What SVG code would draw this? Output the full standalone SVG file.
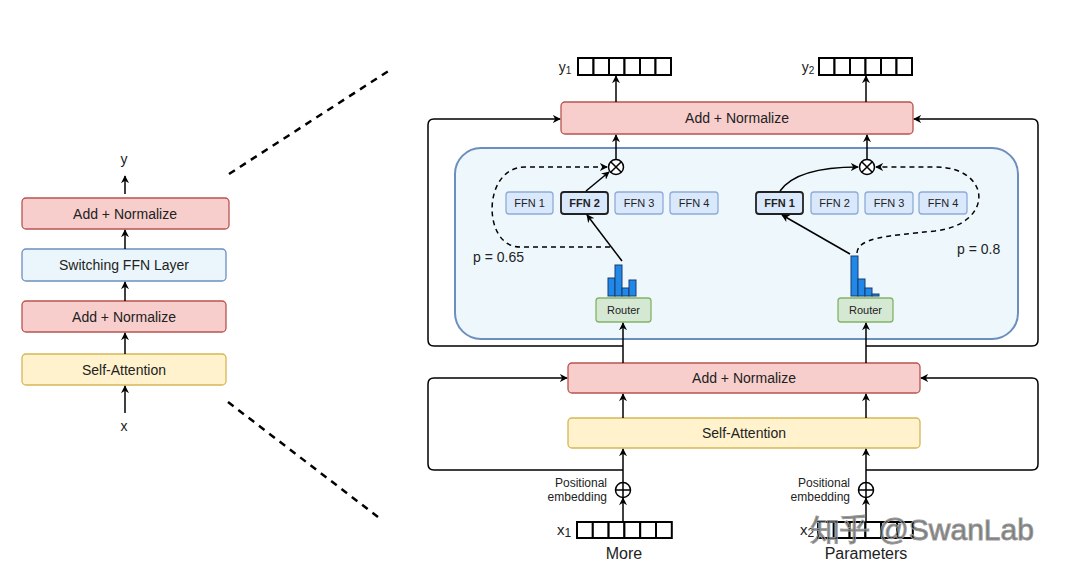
<svg xmlns="http://www.w3.org/2000/svg" width="1080" height="575" viewBox="0 0 1080 575">
<defs>
<marker id="ah" viewBox="0 0 10 10" refX="9" refY="5" markerWidth="8" markerHeight="8" markerUnits="userSpaceOnUse" orient="auto">
<path d="M0,0 L10,5 L0,10 L3,5 Z" fill="#000"/>
</marker>
</defs>
<style>
text{font-family:"Liberation Sans",Arial,sans-serif;fill:#222}
.red{fill:#f8cecc;stroke:#b85450;stroke-width:1.3}
.yel{fill:#fff2cc;stroke:#d6b656;stroke-width:1.3}
.sw{fill:#eaf6fb;stroke:#6c8ebf;stroke-width:1.3}
.ffn{fill:#dae8fc;stroke:#8fabd6;stroke-width:1.3}
.ffnb{fill:#dae8fc;stroke:#222;stroke-width:1.8}
.rt{fill:#d5e8d4;stroke:#82b366;stroke-width:1.3}
.ln{fill:none;stroke:#000;stroke-width:1.5}
.ar{fill:none;stroke:#000;stroke-width:1.5;marker-end:url(#ah)}
.da{fill:none;stroke:#000;stroke-width:1.5;stroke-dasharray:5 4;marker-end:url(#ah)}
.zd{fill:none;stroke:#000;stroke-width:2.5;stroke-dasharray:7 6}
.bar{fill:#1f88e8;stroke:#1a3b6a;stroke-width:1}
.cell{fill:#fff;stroke:#000;stroke-width:2}
.t13{font-size:14px;text-anchor:middle}
.t11{font-size:11px;text-anchor:middle}
.t14{font-size:14px}
</style>

<!-- left summary stack -->
<g id="left-stack">
<text x="124" y="164" class="t13">y</text>
<rect id="l-addnorm2" class="red" x="22" y="198" width="207" height="31" rx="4"/>
<text x="125" y="219" class="t13">Add + Normalize</text>
<rect id="l-switch" class="sw" x="22" y="249" width="204" height="32" rx="4"/>
<text x="124" y="270" class="t13">Switching FFN Layer</text>
<rect id="l-addnorm1" class="red" x="22" y="301" width="204" height="31" rx="4"/>
<text x="124" y="322" class="t13">Add + Normalize</text>
<rect id="l-selfatt" class="yel" x="22" y="354" width="204" height="31" rx="4"/>
<text x="124" y="375" class="t13">Self-Attention</text>
<text x="124" y="431" class="t13">x</text>
</g>

<!-- zoom dashed lines -->
<g id="zoom-lines">
<line class="zd" x1="229" y1="174" x2="390" y2="70"/>
<line class="zd" x1="228" y1="402" x2="378" y2="517"/>
</g>

<!-- outputs -->
<g id="y1">
<text x="565" y="72" class="t13">y<tspan font-size="10" dy="2">1</tspan></text>
<g class="cell">
<rect x="578" y="58" width="15.5" height="17"/><rect x="593.5" y="58" width="15.5" height="17"/><rect x="609" y="58" width="15.5" height="17"/><rect x="624.5" y="58" width="15.5" height="17"/><rect x="640" y="58" width="15.5" height="17"/><rect x="655.5" y="58" width="15.5" height="17"/>
</g>
</g>
<g id="y2">
<text x="808" y="72" class="t13">y<tspan font-size="10" dy="2">2</tspan></text>
<g class="cell">
<rect x="819" y="58" width="15.5" height="17"/><rect x="834.5" y="58" width="15.5" height="17"/><rect x="850" y="58" width="15.5" height="17"/><rect x="865.5" y="58" width="15.5" height="17"/><rect x="881" y="58" width="15.5" height="17"/><rect x="896.5" y="58" width="15.5" height="17"/>
</g>
</g>

<g id="top-addnorm">
<rect class="red" x="561" y="102" width="352" height="32" rx="4"/>
<text x="737" y="123" class="t13">Add + Normalize</text>
</g>

<g id="switch-layer">
<rect x="455" y="148" width="563" height="191" rx="26" fill="#eef8fc" stroke="#6c8ebf" stroke-width="2"/>
</g>

<!-- left token experts -->
<g id="ffn-left">
<rect class="ffn" x="506" y="192" width="47" height="22" rx="3"/><text x="529.5" y="207" class="t11">FFN 1</text>
<rect class="ffnb" x="561" y="192" width="47" height="22" rx="3"/><text x="584.5" y="207" class="t11" font-weight="bold">FFN 2</text>
<rect class="ffn" x="615" y="192" width="48" height="22" rx="3"/><text x="639" y="207" class="t11">FFN 3</text>
<rect class="ffn" x="670" y="192" width="48" height="22" rx="3"/><text x="694" y="207" class="t11">FFN 4</text>
</g>
<g id="ffn-right">
<rect class="ffnb" x="756" y="192" width="47" height="22" rx="3"/><text x="779.5" y="207" class="t11" font-weight="bold">FFN 1</text>
<rect class="ffn" x="811" y="192" width="47" height="22" rx="3"/><text x="834.5" y="207" class="t11">FFN 2</text>
<rect class="ffn" x="865" y="192" width="48" height="22" rx="3"/><text x="889" y="207" class="t11">FFN 3</text>
<rect class="ffn" x="919" y="192" width="48" height="22" rx="3"/><text x="943" y="207" class="t11">FFN 4</text>
</g>

<g id="mult-left">
<circle cx="616" cy="167" r="7.5" fill="#fff" stroke="#000" stroke-width="1.5"/>
<path d="M610.7 161.7 L621.3 172.3 M621.3 161.7 L610.7 172.3" stroke="#000" stroke-width="1.5"/>
</g>
<g id="mult-right">
<circle cx="867" cy="167" r="7.5" fill="#fff" stroke="#000" stroke-width="1.5"/>
<path d="M861.7 161.7 L872.3 172.3 M872.3 161.7 L861.7 172.3" stroke="#000" stroke-width="1.5"/>
</g>

<g id="hist-left">
<rect class="bar" x="608" y="278" width="7" height="18"/>
<rect class="bar" x="615" y="265" width="7" height="31"/>
<rect class="bar" x="622" y="288" width="7" height="8"/>
<rect class="bar" x="629" y="280" width="7" height="16"/>
</g>
<g id="hist-right">
<rect class="bar" x="851" y="256" width="7" height="40"/>
<rect class="bar" x="858" y="279" width="7" height="17"/>
<rect class="bar" x="865" y="288" width="7" height="8"/>
<rect class="bar" x="872" y="294" width="7" height="2"/>
</g>

<g id="router-left">
<rect class="rt" x="596" y="298" width="55" height="24" rx="3"/>
<text x="623.5" y="314" class="t11" font-size="12">Router</text>
</g>
<g id="router-right">
<rect class="rt" x="838" y="298" width="55" height="24" rx="3"/>
<text x="865.5" y="314" class="t11" font-size="12">Router</text>
</g>

<text x="473" y="262" class="t14" font-size="13">p = 0.65</text>
<text x="957" y="254" class="t14" font-size="13">p = 0.8</text>

<g id="low-addnorm">
<rect class="red" x="568" y="363" width="352" height="30" rx="4"/>
<text x="744" y="383" class="t13">Add + Normalize</text>
</g>
<g id="self-attention">
<rect class="yel" x="568" y="418" width="352" height="30" rx="4"/>
<text x="744" y="438" class="t13">Self-Attention</text>
</g>

<g id="pos-left">
<circle cx="623" cy="490" r="7.5" fill="#fff" stroke="#000" stroke-width="1.5"/>
<path d="M615.5 490 H630.5 M623 482.5 V497.5" stroke="#000" stroke-width="1.5"/>
<text x="607" y="487" font-size="12" text-anchor="end" fill="#444">Positional</text>
<text x="607" y="501" font-size="12" text-anchor="end" fill="#444">embedding</text>
</g>
<g id="pos-right">
<circle cx="866" cy="490" r="7.5" fill="#fff" stroke="#000" stroke-width="1.5"/>
<path d="M858.5 490 H873.5 M866 482.5 V497.5" stroke="#000" stroke-width="1.5"/>
<text x="850" y="487" font-size="12" text-anchor="end" fill="#444">Positional</text>
<text x="850" y="501" font-size="12" text-anchor="end" fill="#444">embedding</text>
</g>

<g id="x1">
<text x="557" y="535" font-size="15">x<tspan font-size="12" dy="2">1</tspan></text>
<g class="cell">
<rect x="577" y="522" width="15.8" height="16"/><rect x="592.8" y="522" width="15.8" height="16"/><rect x="608.6" y="522" width="15.8" height="16"/><rect x="624.4" y="522" width="15.8" height="16"/><rect x="640.2" y="522" width="15.8" height="16"/><rect x="656" y="522" width="15.8" height="16"/>
</g>
<text x="624" y="559" font-size="16" text-anchor="middle">More</text>
</g>
<g id="x2">
<text x="800" y="535" font-size="15">x<tspan font-size="12" dy="2">2</tspan></text>
<g class="cell">
<rect x="818" y="522" width="15.8" height="16"/><rect x="833.8" y="522" width="15.8" height="16"/><rect x="849.6" y="522" width="15.8" height="16"/><rect x="865.4" y="522" width="15.8" height="16"/><rect x="881.2" y="522" width="15.8" height="16"/><rect x="897" y="522" width="15.8" height="16"/>
</g>
<text x="866" y="559" font-size="16" text-anchor="middle">Parameters</text>
</g>

<!-- connectors -->
<g id="connectors">
<!-- left stack -->
<line class="ar" x1="125" y1="194" x2="125" y2="176"/>
<line class="ar" x1="125" y1="249" x2="125" y2="230"/>
<line class="ar" x1="125" y1="301" x2="125" y2="282"/>
<line class="ar" x1="125" y1="354" x2="125" y2="333"/>
<line class="ar" x1="125" y1="413" x2="125" y2="386"/>

<!-- outputs -->
<line class="ar" x1="616" y1="102" x2="616" y2="76"/>
<line class="ar" x1="866" y1="102" x2="866" y2="76"/>
<line class="ar" x1="616" y1="159" x2="616" y2="135"/>
<line class="ar" x1="867" y1="159" x2="867" y2="135"/>

<!-- upper residual -->
<path class="ar" d="M623 346 H434 Q428 346 428 340 V125 Q428 119 434 119 H560"/>
<path class="ar" d="M866 346 H1032 Q1038 346 1038 340 V125 Q1038 119 1032 119 H914"/>

<!-- routers -->
<line class="ar" x1="623" y1="363" x2="623" y2="323"/>
<line class="ar" x1="866" y1="363" x2="866" y2="323"/>

<!-- left routing -->
<line class="ar" x1="622" y1="261" x2="587" y2="215"/>
<line class="ar" x1="586" y1="191" x2="609" y2="172"/>
<path class="da" d="M610 247 H520 C482 247 482 167 525 167 H607"/>

<!-- right routing -->
<line class="ar" x1="850" y1="254" x2="782" y2="215"/>
<path class="ar" d="M780 191 C792 174 820 167 858 167"/>
<path class="da" d="M857 253 C858 238 885 236 935 231 C995 224 992 167 935 167 H876"/>

<!-- lower block -->
<line class="ar" x1="623" y1="418" x2="623" y2="394"/>
<line class="ar" x1="866" y1="418" x2="866" y2="394"/>
<line class="ar" x1="623" y1="482" x2="623" y2="449"/>
<line class="ar" x1="866" y1="482" x2="866" y2="449"/>
<line class="ar" x1="623" y1="522" x2="623" y2="498"/>
<line class="ar" x1="866" y1="522" x2="866" y2="498"/>
<path class="ar" d="M623 470 H434 Q428 470 428 464 V384 Q428 378 434 378 H567"/>
<path class="ar" d="M866 470 H1032 Q1038 470 1038 464 V384 Q1038 378 1032 378 H921"/>
</g>

<text x="810" y="540" font-size="30" fill="#fff" fill-opacity="0.6" stroke="#999" stroke-width="1" font-family="'Noto Sans CJK SC','Liberation Sans',sans-serif">知乎 @SwanLab</text>
</svg>
